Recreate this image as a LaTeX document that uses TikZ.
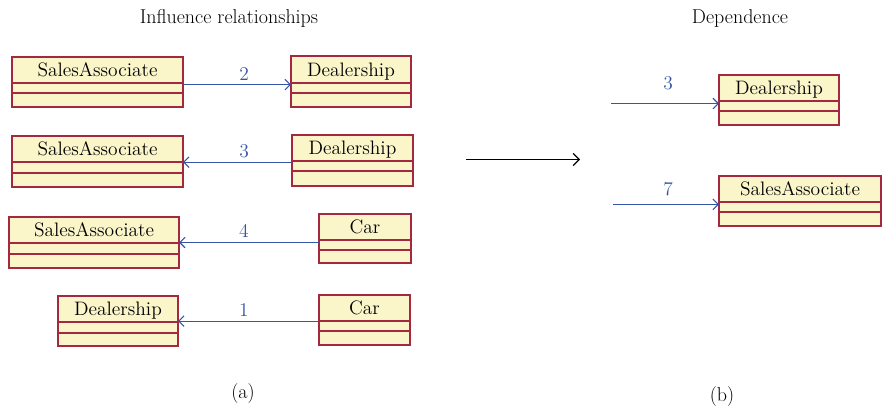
\documentclass[tikz,border=0pt]{standalone}
\usepackage{tikz}
\usetikzlibrary{arrows.meta}
\definecolor{boxfill}{RGB}{251,246,202}
\definecolor{boxline}{RGB}{165,40,65}
\definecolor{connblue}{RGB}{55,85,165}
\tikzset{
  umlrect/.style={draw=boxline, fill=boxfill, line width=0.9pt, inner sep=0pt, outer sep=0pt, anchor=north west},
  divider/.style={draw=boxline, line width=0.9pt},
  hdr/.style={font=\fontsize{14.6}{16}\selectfont, anchor=base, inner sep=0pt},
  conn/.style={draw=connblue, line width=0.8pt, -{Straight Barb[length=4pt,width=8pt]}},
  numlbl/.style={font=\fontsize{14.6}{16}\selectfont, text=connblue, anchor=base, inner sep=0pt},
  ttl/.style={font=\fontsize{15}{17}\selectfont, anchor=base, inner sep=0pt},
  bigarrow/.style={draw=black, line width=0.9pt, -{Straight Barb[length=4.5pt,width=9pt]}}
}
% name, x1, y1, x2, y2, d1, d2, text
\newcommand\umlbox[8]{%
  \node[umlrect, minimum width={(#4-#2)*0.75pt}, minimum height={(#5-#3)*0.75pt}] (#1) at (#2,#3) {};
  \draw[divider] (#2,#6) -- (#4,#6);
  \draw[divider] (#2,#7) -- (#4,#7);
  \node[hdr] (#1-t) at ({(#2+#4)/2},{#6-6.5}) {#8};
}
\begin{document}
\begin{tikzpicture}[x=0.75pt,y=-0.75pt]
\useasboundingbox (0,0) rectangle (882,411);
% titles
\node[ttl] (t1) at (229,23) {Influence relationships};
\node[ttl] (t2) at (740,23) {Dependence};
\node[ttl] (ca) at (243,398) {(a)};
\node[ttl] (cb) at (722,401) {(b)};
% row 1
\umlbox{sa1}{12}{57}{183}{107}{83}{93}{SalesAssociate}
\umlbox{d1}{291}{56}{411}{107}{83}{93}{Dealership}
\draw[conn] ([yshift=-1.9pt]sa1.east) -- ([yshift=-1.9pt]sa1.east -| d1.west) node[numlbl, pos=0.565, above=2.7pt] (n2) {2};
% row 2
\umlbox{sa2}{12}{136}{183}{187}{162}{173}{SalesAssociate}
\umlbox{d2}{292}{135}{413}{186}{161}{171}{Dealership}
\draw[conn] ([yshift=-1.3pt]d2.west) -- ([yshift=-1.3pt]d2.west -| sa2.east) node[numlbl, pos=0.44, above=2.5pt] (n3) {3};
% row 3
\umlbox{sa3}{9}{217}{179}{268}{243}{254}{SalesAssociate}
\umlbox{c3}{319}{214}{411}{263}{240}{250}{Car}
\draw[conn] (c3.west |- sa3.east) -- (sa3.east) node[numlbl, pos=0.536, above=3.7pt] (n4) {4};
% row 4
\umlbox{d4}{58}{296}{178}{346}{322}{333}{Dealership}
\umlbox{c4}{319}{295}{410}{345}{321}{331}{Car}
\draw[conn] ([yshift=-0.9pt]c4.west) -- ([yshift=-0.9pt]c4.west -| d4.east) node[numlbl, pos=0.532, above=3.5pt] (n1) {1};
% big arrow
\coordinate (ba1) at (466,159.5);
\coordinate (ba2) at (580,159.5);
\draw[bigarrow] (ba1) -- (ba2);
% right side
\umlbox{dr}{719}{75}{839}{125}{101}{111}{Dealership}
\umlbox{sr}{719}{176}{881}{226}{202}{212}{SalesAssociate}
\coordinate (s3) at (611,103.5);
\coordinate (s7) at (613,204.4);
\draw[conn] (s3) -- (s3 -| dr.west) node[numlbl, pos=0.53, above=9.7pt] (r3) {3};
\draw[conn] (s7) -- (s7 -| sr.west) node[numlbl, pos=0.52, above=6pt] (r7) {7};
\end{tikzpicture}
\end{document}
